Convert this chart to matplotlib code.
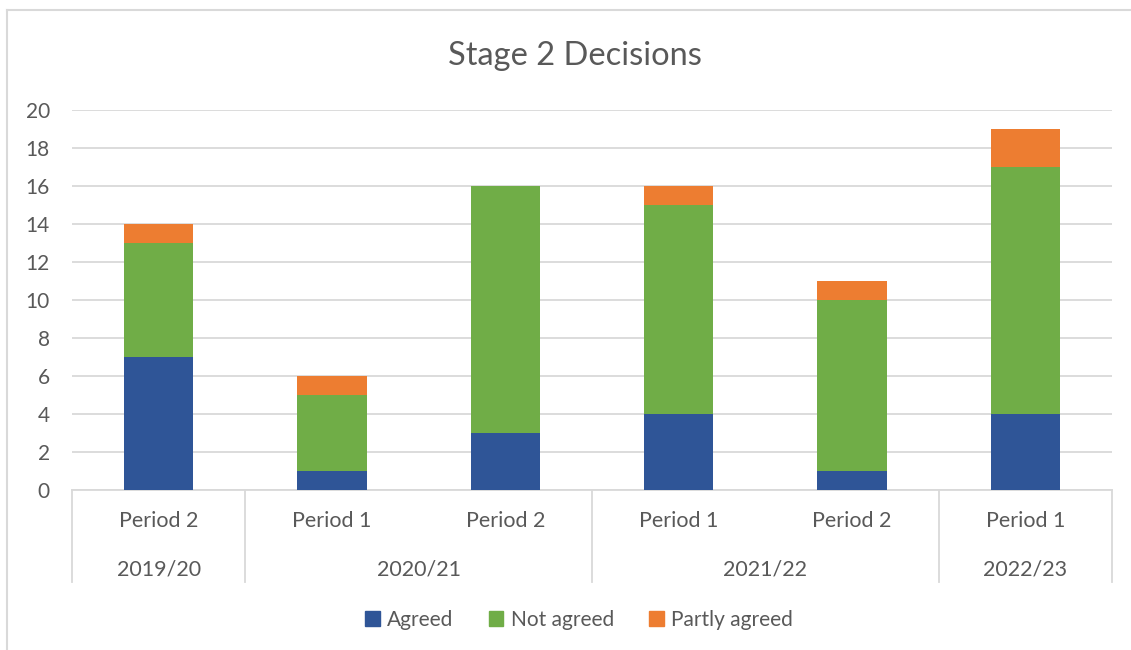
import matplotlib.pyplot as plt
from matplotlib.patches import Rectangle
from matplotlib.lines import Line2D
import numpy as np

periods = ["Period 2", "Period 1", "Period 2", "Period 1", "Period 2", "Period 1"]
years = ["2019/20", "2020/21", "2021/22", "2022/23"]
year_spans = [(0, 0), (1, 2), (3, 4), (5, 5)]
agreed = [7, 1, 3, 4, 1, 4]
not_agreed = [6, 4, 13, 11, 9, 13]
partly_agreed = [1, 1, 0, 1, 1, 2]
series_names = ["Agreed", "Not agreed", "Partly agreed"]
colors = ["#2F5597", "#70AD47", "#ED7D31"]

plt.rcParams['font.family'] = ['Lato', 'DejaVu Sans']
txt = "#595959"
grid = "#D9D9D9"

fig = plt.figure(figsize=(11.31, 6.5), dpi=100)
W, H = 1131, 650
ax = fig.add_axes([72 / W, 1 - 490 / H, 1040 / W, 380 / H])

x = np.arange(len(periods))
bottom = np.zeros(len(periods))
for vals, c, name in zip([agreed, not_agreed, partly_agreed], colors, series_names):
    ax.bar(x, vals, width=0.4, bottom=bottom, color=c, label=name, zorder=3)
    bottom += np.array(vals)

ax.set_xlim(-0.5, len(periods) - 0.5)
ax.set_ylim(0, 20)
ax.set_yticks(range(0, 21, 2))
ax.yaxis.grid(True, color=grid, linewidth=1.3, zorder=0)
ax.set_axisbelow(True)
for s in ["top", "right", "left"]:
    ax.spines[s].set_visible(False)
ax.spines["bottom"].set_color(grid)
ax.spines["bottom"].set_linewidth(1.3)
ax.tick_params(axis='y', length=0, labelsize=15, labelcolor=txt, pad=16)
ax.tick_params(axis='x', length=0, labelbottom=False)

# multi-level category axis
trans = ax.get_xaxis_transform()
line_bottom = -92 / 380
for i, p in enumerate(periods):
    ax.text(i, -31 / 380, p, transform=trans, ha='center', va='center',
            fontsize=15.5, color=txt)
for (a, b), y in zip(year_spans, years):
    ax.text((a + b) / 2, -79 / 380, y, transform=trans, ha='center', va='center',
            fontsize=15.5, color=txt)
bounds = [-0.5] + [b + 0.5 for a, b in year_spans]
for bx in bounds:
    ax.add_line(Line2D([bx, bx], [0, line_bottom], transform=trans, color=grid,
                       linewidth=1.3, clip_on=False))

fig.text(575 / W, 1 - 56 / H, "Stage 2 Decisions", ha='center', va='center',
         fontsize=23.5, color=txt)

handles = [Rectangle((0, 0), 1, 1, color=c) for c in colors]
fig.legend(handles, series_names, loc='center', bbox_to_anchor=(579 / W, 1 - 620 / H),
           ncol=3, frameon=False, fontsize=15, labelcolor=txt, handlelength=0.7,
           handleheight=0.7, handletextpad=0.35, columnspacing=1.7)

# outer chart border
fig.add_artist(Line2D([7 / W, 1], [1 - 10 / H, 1 - 10 / H], transform=fig.transFigure,
                      color=grid, linewidth=1.5))
fig.add_artist(Line2D([7 / W, 7 / W], [1 - 10 / H, 0], transform=fig.transFigure,
                      color=grid, linewidth=1.5))

fig.savefig("out.png", dpi=100)
